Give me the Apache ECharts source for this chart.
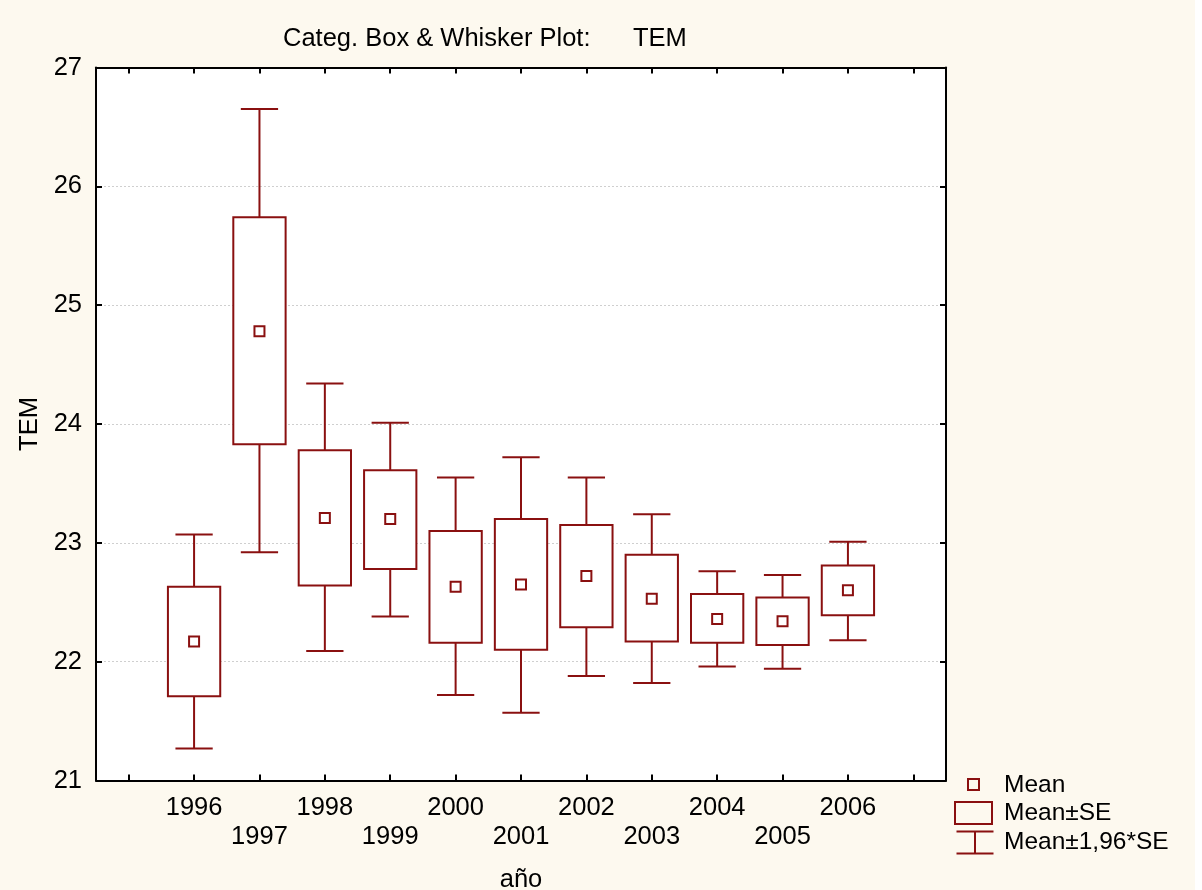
<!DOCTYPE html>
<html>
<head>
<meta charset="utf-8">
<script src="https://cdn.jsdelivr.net/npm/echarts@6/dist/echarts.min.js"></script>
<style>
  html, body { margin: 0; padding: 0; background: #fdf9ef; }
  #chart { width: 1202px; height: 890px; }
</style>
</head>
<body>
<div id="chart"></div>
<script>
// TEM by year: mean, mean ± SE (box) and mean ± 1.96*SE (whiskers)
const years = ['1996', '1997', '1998', '1999', '2000', '2001', '2002', '2003', '2004', '2005', '2006'];
const meanValues = [22.17, 24.78, 23.21, 23.20, 22.63, 22.65, 22.72, 22.53, 22.36, 22.34, 22.60];
const seLower    = [21.71, 23.83, 22.64, 22.78, 22.16, 22.10, 22.29, 22.17, 22.16, 22.14, 22.39];
const seUpper    = [22.63, 25.74, 23.78, 23.61, 23.10, 23.20, 23.15, 22.90, 22.57, 22.54, 22.81];
const ciLower    = [21.27, 22.92, 22.09, 22.38, 21.72, 21.57, 21.88, 21.82, 21.96, 21.94, 22.18];
const ciUpper    = [23.07, 26.65, 24.34, 24.01, 23.55, 23.72, 23.55, 23.24, 22.76, 22.73, 23.01];
const yTicks = [21, 22, 23, 24, 25, 26, 27];

// empty slot on each side of the year categories
const categories = [''].concat(years, ['']);

const RED = '#8a1010';
const INK = '#000000';
const FONT = '"Liberation Sans", Arial, sans-serif';
const FS = 25.5;
const LEGEND_FS = 24.5;

const seriesData = years.map((y, i) => [y, ciLower[i], seLower[i], meanValues[i], seUpper[i], ciUpper[i]]);

function renderItem(params, api) {
  const x = api.value(0);
  const slot = api.size([1, 0])[0];
  const boxW = slot * 0.8;
  const capW = slot * 0.57;
  const pLo = api.coord([x, api.value(1)]);
  const pBoxLo = api.coord([x, api.value(2)]);
  const pMean = api.coord([x, api.value(3)]);
  const pBoxHi = api.coord([x, api.value(4)]);
  const pHi = api.coord([x, api.value(5)]);
  const cx = pMean[0];
  const lineStyle = { stroke: RED, lineWidth: 2, fill: null };
  return {
    type: 'group',
    children: [
      { type: 'line', shape: { x1: cx, y1: pHi[1], x2: cx, y2: pBoxHi[1] }, style: lineStyle },
      { type: 'line', shape: { x1: cx, y1: pBoxLo[1], x2: cx, y2: pLo[1] }, style: lineStyle },
      { type: 'line', shape: { x1: cx - capW / 2, y1: pHi[1], x2: cx + capW / 2, y2: pHi[1] }, style: lineStyle },
      { type: 'line', shape: { x1: cx - capW / 2, y1: pLo[1], x2: cx + capW / 2, y2: pLo[1] }, style: lineStyle },
      { type: 'rect', shape: { x: cx - boxW / 2, y: pBoxHi[1], width: boxW, height: pBoxLo[1] - pBoxHi[1] },
        style: { stroke: RED, lineWidth: 2, fill: '#ffffff' } },
      { type: 'rect', shape: { x: cx - 5, y: pMean[1] - 5, width: 10, height: 10 },
        style: { stroke: RED, lineWidth: 2, fill: '#ffffff' } }
    ]
  };
}

const chart = echarts.init(document.getElementById('chart'), null, { renderer: 'canvas' });

const axisLineStyle = { color: INK, width: 2 };
const tickStyle = { color: INK, width: 2 };

chart.setOption({
  backgroundColor: '#fdf9ef',
  animation: false,
  title: {
    text: 'Categ. Box & Whisker Plot:      TEM',
    left: 283,
    top: 26,
    padding: 0,
    textStyle: { fontFamily: FONT, fontSize: FS, fontWeight: 'normal', color: INK }
  },
  grid: {
    left: 96, right: 256, top: 67.5, bottom: 109.5,
    outerBoundsMode: 'none',
    containLabel: false,
    show: true, backgroundColor: '#ffffff', borderWidth: 0
  },
  xAxis: [
    {
      type: 'category',
      data: categories,
      position: 'bottom',
      boundaryGap: true,
      name: 'año',
      nameLocation: 'middle',
      nameGap: 86,
      nameMoveOverlap: false,
      nameTextStyle: { fontFamily: FONT, fontSize: FS, color: INK },
      axisLine: { lineStyle: axisLineStyle },
      axisTick: { show: true, inside: true, length: 6, alignWithLabel: true, interval: 0, lineStyle: tickStyle },
      axisLabel: {
        interval: 0,
        margin: 13,
        lineHeight: 29,
        fontFamily: FONT, fontSize: FS, color: INK,
        formatter: v => (v && Number(v) % 2 === 1) ? '\n' + v : v
      },
      splitLine: { show: false }
    },
    {
      type: 'category',
      data: categories,
      position: 'top',
      boundaryGap: true,
      axisLine: { lineStyle: axisLineStyle },
      axisTick: { show: true, inside: true, length: 6, alignWithLabel: true, interval: 0, lineStyle: tickStyle },
      axisLabel: { show: false },
      splitLine: { show: false }
    }
  ],
  yAxis: [
    {
      type: 'value',
      min: yTicks[0],
      max: yTicks[yTicks.length - 1],
      interval: 1,
      position: 'left',
      name: 'TEM',
      nameLocation: 'middle',
      nameGap: 53,
      nameMoveOverlap: false,
      nameTextStyle: { fontFamily: FONT, fontSize: FS, color: INK },
      axisLine: { show: true, lineStyle: axisLineStyle },
      axisTick: { show: true, inside: true, length: 6, lineStyle: tickStyle },
      axisLabel: { margin: 14, fontFamily: FONT, fontSize: FS, color: INK },
      splitLine: { show: true, lineStyle: { color: '#cfcfcf', type: [2, 2], width: 1 } }
    },
    {
      type: 'value',
      min: yTicks[0],
      max: yTicks[yTicks.length - 1],
      interval: 1,
      position: 'right',
      axisLine: { show: true, lineStyle: axisLineStyle },
      axisTick: { show: true, inside: true, length: 6, lineStyle: tickStyle },
      axisLabel: { show: false },
      splitLine: { show: false }
    }
  ],
  series: [
    {
      type: 'custom',
      name: 'TEM',
      xAxisIndex: 0,
      yAxisIndex: 0,
      renderItem: renderItem,
      encode: { x: 0, y: [1, 2, 3, 4, 5] },
      data: seriesData,
      z: 5
    }
  ],
  graphic: [
    // thin white margin along the right edge of the page
    { type: 'rect', left: 1195, top: 0, shape: { width: 7, height: 890 }, style: { fill: '#ffffff' } },
    { type: 'rect', left: 967, top: 778, shape: { width: 11, height: 11 }, style: { stroke: RED, lineWidth: 2, fill: 'transparent' } },
    { type: 'text', left: 1004, top: 773, style: { text: 'Mean', font: LEGEND_FS + 'px ' + FONT, fill: INK } },
    { type: 'rect', left: 954, top: 801, shape: { width: 37, height: 22 }, style: { stroke: RED, lineWidth: 2, fill: 'transparent' } },
    { type: 'text', left: 1004, top: 801, style: { text: 'Mean±SE', font: LEGEND_FS + 'px ' + FONT, fill: INK } },
    { type: 'group', left: 954, top: 829, children: [
      { type: 'line', shape: { x1: 0, y1: 1, x2: 37, y2: 1 }, style: { stroke: RED, lineWidth: 2 } },
      { type: 'line', shape: { x1: 18.5, y1: 1, x2: 18.5, y2: 23 }, style: { stroke: RED, lineWidth: 2 } },
      { type: 'line', shape: { x1: 0, y1: 23, x2: 37, y2: 23 }, style: { stroke: RED, lineWidth: 2 } }
    ] },
    { type: 'text', left: 1004, top: 830, style: { text: 'Mean±1,96*SE', font: LEGEND_FS + 'px ' + FONT, fill: INK } }
  ]
});
</script>
</body>
</html>
